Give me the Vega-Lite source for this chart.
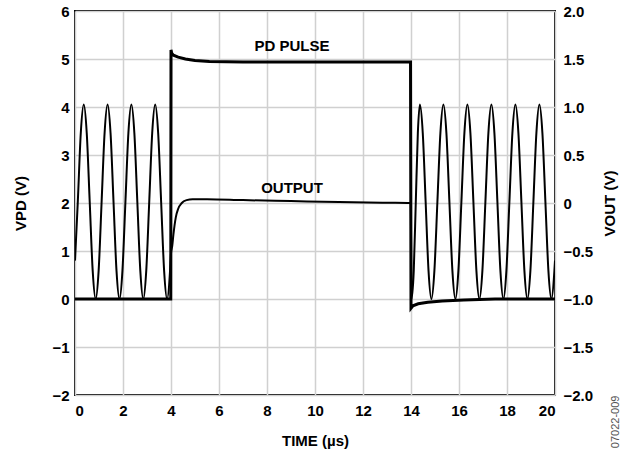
{
  "$schema": "https://vega.github.io/schema/vega-lite/v6.json",
  "width": 480,
  "height": 384,
  "autosize": {"type": "none"},
  "padding": {"left": 75, "top": 11, "right": 71, "bottom": 58},
  "config": {
    "font": "Liberation Sans",
    "view": {"stroke": "#000", "strokeWidth": 2},
    "axis": {
      "labelFont": "Liberation Sans", "labelFontWeight": "bold", "labelFontSize": 15, "labelColor": "#000",
      "titleFont": "Liberation Sans", "titleFontWeight": "bold", "titleFontSize": 15, "titleColor": "#000",
      "domain": false, "ticks": false, "gridColor": "#d0d0d0", "gridWidth": 1.5
    }
  },
  "datasets": {
    "pd": [
      {"t": 0, "v": 0}, {"t": 1, "v": 0}, {"t": 2, "v": 0}, {"t": 3, "v": 0}, {"t": 3.99, "v": 0},
      {"t": 4.0, "v": 5.19}, {"t": 4.03, "v": 5.12}, {"t": 4.1, "v": 5.08}, {"t": 4.3, "v": 5.04},
      {"t": 4.6, "v": 5.0}, {"t": 5.0, "v": 4.97}, {"t": 5.6, "v": 4.95}, {"t": 7, "v": 4.94},
      {"t": 10, "v": 4.94}, {"t": 13.98, "v": 4.94}, {"t": 14.0, "v": -0.19}, {"t": 14.08, "v": -0.14},
      {"t": 14.3, "v": -0.1}, {"t": 14.7, "v": -0.07}, {"t": 15.3, "v": -0.04}, {"t": 16.2, "v": -0.02},
      {"t": 17.5, "v": 0}, {"t": 20, "v": 0}
    ],
    "out": [
      {"t": 0, "v": -0.6}, {"t": 0.117, "v": 0.0125}, {"t": 0.241, "v": 0.729}, {"t": 0.365, "v": 1.025},
      {"t": 0.489, "v": 0.729}, {"t": 0.613, "v": 0.0125}, {"t": 0.737, "v": -0.704}, {"t": 0.861, "v": -1},
      {"t": 0.985, "v": -0.704}, {"t": 1.109, "v": 0.0125}, {"t": 1.233, "v": 0.729}, {"t": 1.357, "v": 1.025},
      {"t": 1.481, "v": 0.729}, {"t": 1.605, "v": 0.0125}, {"t": 1.729, "v": -0.704}, {"t": 1.853, "v": -1},
      {"t": 1.977, "v": -0.704}, {"t": 2.101, "v": 0.0125}, {"t": 2.225, "v": 0.729}, {"t": 2.349, "v": 1.025},
      {"t": 2.473, "v": 0.729}, {"t": 2.597, "v": 0.0125}, {"t": 2.721, "v": -0.704}, {"t": 2.845, "v": -1},
      {"t": 2.969, "v": -0.704}, {"t": 3.093, "v": 0.0125}, {"t": 3.217, "v": 0.729}, {"t": 3.341, "v": 1.025},
      {"t": 3.465, "v": 0.729}, {"t": 3.589, "v": 0.0125}, {"t": 3.713, "v": -0.704}, {"t": 3.837, "v": -1},
      {"t": 3.961, "v": -0.704}, {"t": 4.0, "v": -0.525}, {"t": 4.05, "v": -0.45}, {"t": 4.1, "v": -0.33},
      {"t": 4.2, "v": -0.15}, {"t": 4.3, "v": -0.06}, {"t": 4.45, "v": 0}, {"t": 4.65, "v": 0.03},
      {"t": 4.9, "v": 0.04}, {"t": 5.5, "v": 0.04}, {"t": 7, "v": 0.03}, {"t": 9, "v": 0.02},
      {"t": 11, "v": 0.01}, {"t": 13, "v": 0.003}, {"t": 13.99, "v": 0}, {"t": 14.02, "v": -1},
      {"t": 14.115, "v": -0.704}, {"t": 14.2, "v": 0.0125}, {"t": 14.285, "v": 0.729}, {"t": 14.37, "v": 1.025},
      {"t": 14.49, "v": 0.729}, {"t": 14.61, "v": 0.0125}, {"t": 14.73, "v": -0.704}, {"t": 14.85, "v": -1},
      {"t": 14.975, "v": -0.704}, {"t": 15.1, "v": 0.0125}, {"t": 15.225, "v": 0.729}, {"t": 15.35, "v": 1.025},
      {"t": 15.475, "v": 0.729}, {"t": 15.6, "v": 0.0125}, {"t": 15.725, "v": -0.704}, {"t": 15.85, "v": -1},
      {"t": 15.975, "v": -0.704}, {"t": 16.1, "v": 0.0125}, {"t": 16.225, "v": 0.729}, {"t": 16.35, "v": 1.025},
      {"t": 16.475, "v": 0.729}, {"t": 16.6, "v": 0.0125}, {"t": 16.725, "v": -0.704}, {"t": 16.85, "v": -1},
      {"t": 16.975, "v": -0.704}, {"t": 17.1, "v": 0.0125}, {"t": 17.225, "v": 0.729}, {"t": 17.35, "v": 1.025},
      {"t": 17.475, "v": 0.729}, {"t": 17.6, "v": 0.0125}, {"t": 17.725, "v": -0.704}, {"t": 17.85, "v": -1},
      {"t": 17.975, "v": -0.704}, {"t": 18.1, "v": 0.0125}, {"t": 18.225, "v": 0.729}, {"t": 18.35, "v": 1.025},
      {"t": 18.475, "v": 0.729}, {"t": 18.6, "v": 0.0125}, {"t": 18.725, "v": -0.704}, {"t": 18.85, "v": -1},
      {"t": 18.975, "v": -0.704}, {"t": 19.1, "v": 0.0125}, {"t": 19.225, "v": 0.729}, {"t": 19.35, "v": 1.025},
      {"t": 19.475, "v": 0.729}, {"t": 19.6, "v": 0.0125}, {"t": 19.725, "v": -0.704}, {"t": 19.85, "v": -1},
      {"t": 19.975, "v": -0.704}, {"t": 20, "v": -0.6}
    ],
    "notes": [
      {"t": 9.04, "v": 5.28, "label": "PD PULSE"},
      {"t": 9.04, "v": 2.31, "label": "OUTPUT"}
    ],
    "code": [
      {"t": 22.55, "v": -2.56, "label": "07022-009"}
    ]
  },
  "layer": [
    {
      "data": {"name": "pd"},
      "mark": {"type": "line", "color": "#000", "strokeWidth": 3, "clip": true},
      "encoding": {
        "x": {
          "field": "t", "type": "quantitative",
          "scale": {"domain": [0, 20], "nice": false, "zero": false},
          "axis": {
            "values": [0, 2, 4, 6, 8, 10, 12, 14, 16, 18, 20],
            "title": "TIME (µs)", "labelPadding": 8,
            "titleX": 240, "titleY": 45, "titleBaseline": "middle", "titleAlign": "center"
          }
        },
        "y": {
          "field": "v", "type": "quantitative",
          "scale": {"domain": [-2, 6], "nice": false, "zero": false},
          "axis": {
            "values": [-2, -1, 0, 1, 2, 3, 4, 5, 6],
            "title": "VPD (V)", "labelPadding": 6,
            "titleAngle": 270, "titleX": -55, "titleY": 192, "titleBaseline": "middle", "titleAlign": "center"
          }
        }
      }
    },
    {
      "data": {"name": "out"},
      "mark": {"type": "line", "color": "#000", "strokeWidth": 2, "interpolate": "monotone", "clip": true},
      "encoding": {
        "x": {"field": "t", "type": "quantitative"},
        "y": {
          "field": "v", "type": "quantitative",
          "scale": {"domain": [-2, 2], "nice": false, "zero": false},
          "axis": {
            "orient": "right", "grid": false,
            "values": [-2, -1.5, -1, -0.5, 0, 0.5, 1, 1.5, 2],
            "labelExpr": "datum.value == 0 ? '0' : format(datum.value, '.1f')",
            "title": "VOUT (V)", "labelPadding": 8,
            "titleAngle": 270, "titleX": 54, "titleY": 192, "titleBaseline": "middle", "titleAlign": "center"
          }
        }
      }
    },
    {
      "data": {"name": "notes"},
      "mark": {"type": "text", "font": "Liberation Sans", "fontWeight": "bold", "fontSize": 15, "color": "#000"},
      "encoding": {
        "x": {"field": "t", "type": "quantitative"},
        "y": {"field": "v", "type": "quantitative", "scale": {"domain": [-2, 6], "nice": false, "zero": false}, "axis": null},
        "text": {"field": "label"}
      }
    },
    {
      "data": {"name": "code"},
      "mark": {"type": "text", "font": "Liberation Sans", "fontSize": 11, "color": "#555", "angle": 270},
      "encoding": {
        "x": {"field": "t", "type": "quantitative"},
        "y": {"field": "v", "type": "quantitative", "scale": {"domain": [-2, 6], "nice": false, "zero": false}, "axis": null},
        "text": {"field": "label"}
      }
    }
  ],
  "resolve": {"scale": {"y": "independent"}}
}
